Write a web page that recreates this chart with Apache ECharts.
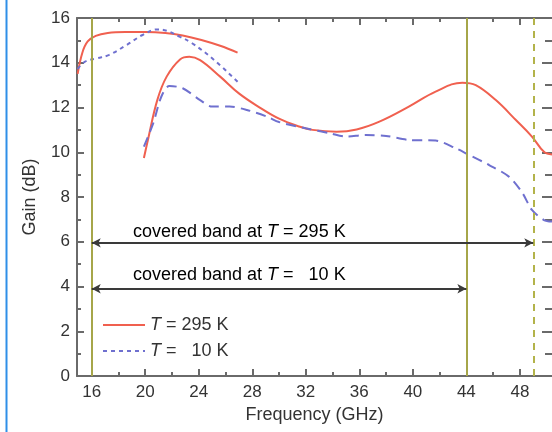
<!DOCTYPE html>
<html>
<head>
    <meta charset="UTF-8">
    <title>Gain</title>
    <script src="https://cdn.jsdelivr.net/npm/echarts@6/dist/echarts.min.js"></script>
    <style>
        html, body { margin: 0; padding: 0; background: #fff; }
        #main { width: 552px; height: 432px; }
    </style>
</head>
<body>
<div id="main"></div>
<script type="text/javascript">
    // tick positions
    var xMajor = [16, 20, 24, 28, 32, 36, 40, 44, 48];
    var xMinor = [18, 22, 26, 30, 34, 38, 42, 46];

    // T = 295 K, upper curve
    var red295Upper = [[14.95, 13.5], [15.3, 14.45], [15.7, 14.95], [16.3, 15.2], [17.2, 15.33], [18.5, 15.37],
        [20, 15.37], [21.5, 15.33], [22.8, 15.22], [24.2, 15.02], [25.6, 14.76], [26.9, 14.45]];
    // T = 10 K, upper curve
    var blue10Upper = [[14.95, 13.72], [15.5, 14.05], [16.4, 14.2], [17.3, 14.35], [18.6, 14.79], [19.8, 15.24],
        [20.9, 15.49], [21.6, 15.43], [22.6, 15.16], [23.5, 14.87], [25, 14.2], [26.9, 13.15]];
    // T = 295 K, lower curve
    var red295Lower = [[19.9, 9.74], [20.2, 10.55], [20.9, 12.33], [21.6, 13.38], [22.6, 14.15], [23.3, 14.27],
        [24.1, 14.12], [25.6, 13.38], [27.0, 12.63], [28.5, 12.02], [30.0, 11.5], [31.5, 11.15], [32.5, 11.0],
        [34.3, 10.92], [35.8, 11.02], [37.5, 11.37], [39.7, 12.04], [41.7, 12.71], [43.7, 13.11], [44.7, 13.0],
        [46.2, 12.33], [47.7, 11.44], [48.9, 10.7], [49.8, 10.02], [50.4, 9.9]];
    // T = 10 K, lower curve
    var blue10Lower = [[19.9, 10.25], [20.6, 11.3], [21.2, 12.48], [21.8, 12.96], [22.8, 12.86], [24.1, 12.33],
        [25.0, 12.04], [26.3, 12.04], [27.6, 11.89], [29.1, 11.59], [30, 11.35], [32.0, 11.07], [33.8, 10.85],
        [35.0, 10.7], [36.5, 10.77], [38.0, 10.73], [39.7, 10.55], [41.7, 10.52], [43.2, 10.18], [44.2, 9.88],
        [45.7, 9.43], [47.2, 8.9], [48.2, 8.17], [48.9, 7.42], [49.8, 6.97], [50.4, 6.9]];

    // band edges and arrows
    var bandSolid = [16, 44];
    var bandDashed = [49];
    var arrow295 = [16, 49, 5.95];
    var arrow10 = [16, 44, 3.9];

    var FONT = "'Liberation Sans', Arial, sans-serif";
    var AXIS = '#6a6a6a';
    var RED = '#f0604f';
    var BLUE = '#6f70cf';
    var OLIVE = '#a6a64a';

    var myChart = echarts.init(document.getElementById('main'));

    function xAx(pos, ticks, len, showLine, showLabel) {
        return {
            type: 'value', position: pos, min: 14.9, max: 50.4,
            axisLine: { show: showLine, onZero: false, lineStyle: { color: AXIS, width: 2 } },
            axisTick: { show: true, inside: true, length: len, customValues: ticks, lineStyle: { color: AXIS, width: 2 } },
            axisLabel: {
                show: showLabel, customValues: ticks, margin: 8,
                fontSize: 17, color: '#333', fontFamily: FONT
            },
            splitLine: { show: false }
        };
    }

    var xAxes = [xAx('bottom', xMajor, 7, true, true), xAx('bottom', xMinor, 4, false, false),
        xAx('top', xMajor, 7, true, false), xAx('top', xMinor, 4, false, false)];
    xAxes[0].name = 'Frequency (GHz)';
    xAxes[0].nameLocation = 'middle';
    xAxes[0].nameGap = 30;
    xAxes[0].nameTextStyle = { fontSize: 18, color: '#333', fontFamily: FONT };

    function rich(head, tail) {
        return '{a|' + head + '}{i|T}{a|' + tail + '}';
    }
    var richStyle = {
        a: { fontSize: 18, color: '#333', fontFamily: FONT },
        i: { fontSize: 18, color: '#333', fontFamily: FONT, fontStyle: 'italic' }
    };

    option = {
        animation: false,
        backgroundColor: '#fff',
        grid: { left: 77, right: 0, top: 18, bottom: 56 },
        xAxis: xAxes,
        yAxis: [{
            type: 'value', position: 'left', min: 0, max: 16, interval: 2,
            name: 'Gain (dB)', nameLocation: 'middle', nameGap: 38,
            nameTextStyle: { fontSize: 18, color: '#333', fontFamily: FONT },
            axisLine: { show: true, lineStyle: { color: AXIS, width: 2 } },
            axisTick: { inside: true, length: 7, lineStyle: { color: AXIS, width: 2 } },
            minorTick: { show: true, splitNumber: 2, length: 4, lineStyle: { color: AXIS, width: 2 } },
            axisLabel: { fontSize: 17, color: '#333', margin: 7, fontFamily: FONT },
            splitLine: { show: false }
        }, {
            type: 'value', position: 'right', min: 0, max: 16, interval: 2,
            axisLine: { show: false },
            axisTick: { show: true, inside: true, length: 10, lineStyle: { color: AXIS, width: 2 } },
            minorTick: { show: true, splitNumber: 2, length: 7, lineStyle: { color: AXIS, width: 2 } },
            axisLabel: { show: false },
            splitLine: { show: false }
        }],
        legend: {
            orient: 'vertical', left: 102, top: 316, padding: 0,
            itemWidth: 42, itemHeight: 14, itemGap: 8,
            data: ['T = 295 K', 'T = 10 K'],
            itemStyle: { opacity: 0 },
            formatter: function (name) {
                return name === 'T = 295 K' ? rich('', ' = 295 K') : rich('', ' =   10 K');
            },
            textStyle: { rich: richStyle, padding: [0, 0, 0, 0] }
        },
        graphic: [
            { type: 'line', shape: { x1: 6.5, y1: 0, x2: 6.5, y2: 432 }, style: { stroke: '#2f8fe8', lineWidth: 2 } },
            {
                type: 'text', left: 133, top: 223,
                style: { text: rich('covered band at ', ' = 295 K'), rich: richStyle }
            },
            {
                type: 'text', left: 133, top: 266,
                style: { text: rich('covered band at ', ' =   10 K'), rich: richStyle }
            }
        ],
        series: [{
            name: 'T = 295 K', type: 'line', data: red295Upper, smooth: 0.4, symbol: 'none',
            lineStyle: { color: RED, width: 2 }, itemStyle: { color: RED }, z: 3
        }, {
            name: 'T = 10 K', type: 'line', data: blue10Upper, smooth: 0.4, symbol: 'none',
            lineStyle: { color: BLUE, width: 2, type: [4, 4] }, itemStyle: { color: BLUE }, z: 4
        }, {
            name: 'T = 295 K', type: 'line', data: red295Lower, smooth: 0.4, symbol: 'none',
            lineStyle: { color: RED, width: 2 }, itemStyle: { color: RED }, z: 3
        }, {
            name: 'T = 10 K', type: 'line', data: blue10Lower, smooth: 0.3, symbol: 'none',
            lineStyle: { color: BLUE, width: 2, type: [10, 6] }, itemStyle: { color: BLUE }, z: 4
        }, {
            name: 'marks', type: 'line', data: [], z: 2,
            markLine: {
                silent: true, symbol: 'none', animation: false,
                label: { show: false },
                data: bandSolid.map(function (v) {
                    return { xAxis: v, lineStyle: { color: OLIVE, width: 2, type: 'solid' } };
                }).concat(bandDashed.map(function (v) {
                    return { xAxis: v, lineStyle: { color: '#b3b34a', width: 2, type: [7, 6] } };
                }))
            }
        }, {
            name: 'arrows', type: 'line', data: [], z: 5,
            markLine: {
                silent: true, symbol: ['arrow', 'arrow'], symbolSize: [7, 9], animation: false,
                label: { show: false },
                lineStyle: { color: '#3a3a3a', width: 2, type: 'solid' },
                data: [
                    [{ coord: [arrow295[0], arrow295[2]] }, { coord: [arrow295[1], arrow295[2]] }],
                    [{ coord: [arrow10[0], arrow10[2]] }, { coord: [arrow10[1], arrow10[2]] }]
                ]
            }
        }]
    };

    myChart.setOption(option);
</script>
</body>
</html>
